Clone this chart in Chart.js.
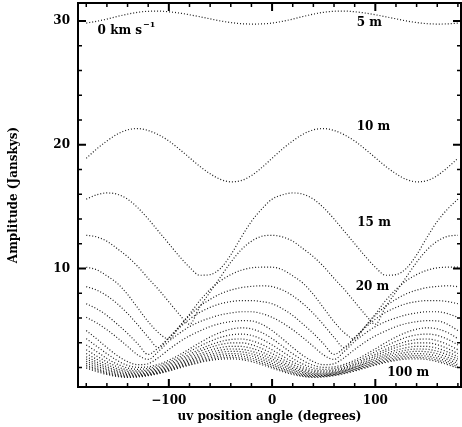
<!DOCTYPE html>
<html lang="en">
<head>
<meta charset="UTF-8">
<title>Amplitude vs uv position angle</title>
<script src="https://cdn.jsdelivr.net/npm/chart.js"></script>
<style>
    html, body { margin: 0; padding: 0; background: #fff; }
    #wrap { width: 462px; height: 427px; }
</style>
</head>
<body>
<div id="wrap"><canvas id="ampChart" width="462" height="427"></canvas></div>
<script>
// uv position angle (degrees), one sample every 10 degrees
const angles = [-180, -170, -160, -150, -140, -130, -120, -110, -100, -90, -80, -70, -60, -50, -40, -30, -20, -10, 0,
                10, 20, 30, 40, 50, 60, 70, 80, 90, 100, 110, 120, 130, 140, 150, 160, 170, 180];

const baselines = ['5 m', '10 m', '15 m', '20 m', '25 m', '30 m', '35 m', '40 m', '45 m', '50 m',
                   '55 m', '60 m', '65 m', '70 m', '75 m', '80 m', '85 m', '90 m', '95 m', '100 m'];

// amplitude (Jy) per baseline
const amp5 = [29.83, 29.97, 30.15, 30.36, 30.55, 30.7, 30.78, 30.8, 30.74, 30.64, 30.5, 30.34, 30.17, 30.0, 29.87, 29.78, 29.75, 29.76, 29.83,
              29.97, 30.15, 30.36, 30.55, 30.7, 30.78, 30.8, 30.74, 30.64, 30.5, 30.34, 30.17, 30.0, 29.87, 29.78, 29.75, 29.76, 29.83];
const amp10 = [18.9, 19.65, 20.3, 20.85, 21.2, 21.3, 21.15, 20.8, 20.3, 19.65, 18.95, 18.25, 17.65, 17.2, 17.0, 17.1, 17.5, 18.15, 18.9,
               19.65, 20.3, 20.85, 21.2, 21.3, 21.15, 20.8, 20.3, 19.65, 18.95, 18.25, 17.65, 17.2, 17.0, 17.1, 17.5, 18.15, 18.9];
const amp15 = [15.6, 15.95, 16.1, 16.0, 15.6, 14.9, 14.0, 13.0, 12.0, 11.0, 10.1, 9.45, 9.5, 10.0, 11.1, 12.5, 13.8, 14.8, 15.6,
               15.95, 16.1, 16.0, 15.6, 14.9, 14.0, 13.0, 12.0, 11.0, 10.1, 9.45, 9.5, 10.0, 11.1, 12.5, 13.8, 14.8, 15.6];
const amp20 = [12.68, 12.55, 12.2, 11.6, 10.95, 10.15, 9.2, 8.3, 7.3, 6.3, 5.5, 6.9, 8.1, 9.3, 10.5, 11.5, 12.2, 12.6, 12.68,
               12.55, 12.2, 11.6, 10.95, 10.15, 9.2, 8.3, 7.3, 6.3, 5.5, 6.9, 8.1, 9.3, 10.5, 11.5, 12.2, 12.6, 12.68];
const amp25 = [10.1, 9.9, 9.4, 8.8, 7.9, 6.8, 5.7, 4.8, 4.3, 5.3, 6.3, 7.4, 8.3, 9.0, 9.5, 9.85, 10.05, 10.1, 10.1,
               9.9, 9.4, 8.8, 7.9, 6.8, 5.7, 4.8, 4.3, 5.3, 6.3, 7.4, 8.3, 9.0, 9.5, 9.85, 10.05, 10.1, 10.1];
const amp30 = [8.53, 8.26, 7.79, 7.15, 6.36, 5.43, 4.44, 3.6, 4.4, 5.3, 6.2, 6.95, 7.5, 7.95, 8.25, 8.45, 8.55, 8.6, 8.53,
               8.26, 7.79, 7.15, 6.36, 5.43, 4.44, 3.6, 4.4, 5.3, 6.2, 6.95, 7.5, 7.95, 8.25, 8.45, 8.55, 8.6, 8.53];
const amp35 = [7.15, 6.75, 6.2, 5.5, 4.75, 3.9, 3.05, 3.6, 4.4, 5.2, 5.9, 6.45, 6.85, 7.15, 7.32, 7.4, 7.4, 7.32, 7.15,
               6.75, 6.2, 5.5, 4.75, 3.9, 3.05, 3.6, 4.4, 5.2, 5.9, 6.45, 6.85, 7.15, 7.32, 7.4, 7.4, 7.32, 7.15];
const amp40 = [6.05, 5.6, 5.05, 4.4, 3.7, 3.0, 2.65, 3.3, 4.1, 4.75, 5.3, 5.7, 6.0, 6.25, 6.4, 6.5, 6.5, 6.35, 6.05,
               5.6, 5.05, 4.4, 3.7, 3.0, 2.65, 3.3, 4.1, 4.75, 5.3, 5.7, 6.0, 6.25, 6.4, 6.5, 6.5, 6.35, 6.05];
const amp45 = [4.98, 4.32, 3.61, 2.96, 2.47, 2.22, 2.3, 2.8, 3.45, 4.05, 4.55, 4.95, 5.3, 5.55, 5.7, 5.78, 5.76, 5.49, 4.98,
               4.32, 3.61, 2.96, 2.47, 2.22, 2.3, 2.8, 3.45, 4.05, 4.55, 4.95, 5.3, 5.55, 5.7, 5.78, 5.76, 5.49, 4.98];
const amp50 = [4.33, 3.72, 3.11, 2.56, 2.17, 2.01, 2.05, 2.25, 2.58, 3.01, 3.5, 4.0, 4.46, 4.83, 5.09, 5.2, 5.12, 4.82, 4.33,
               3.72, 3.11, 2.56, 2.17, 2.01, 2.05, 2.25, 2.58, 3.01, 3.5, 4.0, 4.46, 4.83, 5.09, 5.2, 5.12, 4.82, 4.33];
const amp55 = [3.82, 3.28, 2.73, 2.27, 1.96, 1.85, 1.92, 2.12, 2.44, 2.83, 3.28, 3.72, 4.11, 4.43, 4.63, 4.7, 4.59, 4.28, 3.82,
               3.28, 2.73, 2.27, 1.96, 1.85, 1.92, 2.12, 2.44, 2.83, 3.28, 3.72, 4.11, 4.43, 4.63, 4.7, 4.59, 4.28, 3.82];
const amp60 = [3.43, 2.93, 2.45, 2.06, 1.8, 1.72, 1.8, 2.0, 2.3, 2.67, 3.07, 3.47, 3.82, 4.09, 4.26, 4.3, 4.16, 3.86, 3.43,
               2.93, 2.45, 2.06, 1.8, 1.72, 1.8, 2.0, 2.3, 2.67, 3.07, 3.47, 3.82, 4.09, 4.26, 4.3, 4.16, 3.86, 3.43];
const amp65 = [3.12, 2.67, 2.24, 1.89, 1.68, 1.62, 1.71, 1.9, 2.19, 2.55, 2.92, 3.3, 3.61, 3.85, 3.98, 3.99, 3.84, 3.53, 3.12,
               2.67, 2.24, 1.89, 1.68, 1.62, 1.71, 1.9, 2.19, 2.55, 2.92, 3.3, 3.61, 3.85, 3.98, 3.99, 3.84, 3.53, 3.12];
const amp70 = [2.87, 2.46, 2.06, 1.76, 1.57, 1.53, 1.62, 1.81, 2.09, 2.41, 2.77, 3.1, 3.39, 3.6, 3.71, 3.7, 3.55, 3.26, 2.87,
               2.46, 2.06, 1.76, 1.57, 1.53, 1.62, 1.81, 2.09, 2.41, 2.77, 3.1, 3.39, 3.6, 3.71, 3.7, 3.55, 3.26, 2.87];
const amp75 = [2.68, 2.29, 1.92, 1.65, 1.49, 1.47, 1.56, 1.75, 2.01, 2.32, 2.64, 2.95, 3.21, 3.4, 3.49, 3.47, 3.31, 3.03, 2.68,
               2.29, 1.92, 1.65, 1.49, 1.47, 1.56, 1.75, 2.01, 2.32, 2.64, 2.95, 3.21, 3.4, 3.49, 3.47, 3.31, 3.03, 2.68];
const amp80 = [2.5, 2.14, 1.8, 1.56, 1.42, 1.41, 1.51, 1.69, 1.94, 2.23, 2.53, 2.82, 3.05, 3.22, 3.3, 3.27, 3.11, 2.83, 2.5,
               2.14, 1.8, 1.56, 1.42, 1.41, 1.51, 1.69, 1.94, 2.23, 2.53, 2.82, 3.05, 3.22, 3.3, 3.27, 3.11, 2.83, 2.5];
const amp85 = [2.33, 1.99, 1.69, 1.46, 1.35, 1.36, 1.45, 1.63, 1.87, 2.14, 2.43, 2.69, 2.91, 3.05, 3.12, 3.08, 2.92, 2.65, 2.33,
               1.99, 1.69, 1.46, 1.35, 1.36, 1.45, 1.63, 1.87, 2.14, 2.43, 2.69, 2.91, 3.05, 3.12, 3.08, 2.92, 2.65, 2.33];
const amp90 = [2.19, 1.87, 1.59, 1.39, 1.29, 1.31, 1.41, 1.58, 1.81, 2.07, 2.34, 2.58, 2.78, 2.91, 2.96, 2.91, 2.75, 2.49, 2.19,
               1.87, 1.59, 1.39, 1.29, 1.31, 1.41, 1.58, 1.81, 2.07, 2.34, 2.58, 2.78, 2.91, 2.96, 2.91, 2.75, 2.49, 2.19];
const amp95 = [2.06, 1.76, 1.51, 1.32, 1.24, 1.27, 1.37, 1.54, 1.76, 2.0, 2.25, 2.48, 2.66, 2.78, 2.82, 2.76, 2.6, 2.35, 2.06,
               1.76, 1.51, 1.32, 1.24, 1.27, 1.37, 1.54, 1.76, 2.0, 2.25, 2.48, 2.66, 2.78, 2.82, 2.76, 2.6, 2.35, 2.06];
const amp100 = [1.95, 1.67, 1.43, 1.27, 1.2, 1.23, 1.34, 1.5, 1.71, 1.95, 2.19, 2.4, 2.57, 2.67, 2.7, 2.64, 2.47, 2.23, 1.95,
                1.67, 1.43, 1.27, 1.2, 1.23, 1.34, 1.5, 1.71, 1.95, 2.19, 2.4, 2.57, 2.67, 2.7, 2.64, 2.47, 2.23, 1.95];

const curves = [amp5, amp10, amp15, amp20, amp25, amp30, amp35, amp40, amp45, amp50,
                amp55, amp60, amp65, amp70, amp75, amp80, amp85, amp90, amp95, amp100];

// text written inside the plot, placed in data units
const notes = [
    { text: '5 m', x: 82, y: 29.85 },
    { text: '10 m', x: 82, y: 21.4 },
    { text: '15 m', x: 82.5, y: 13.7 },
    { text: '20 m', x: 81, y: 8.5 },
    { text: '100 m', x: 111.5, y: 1.6 }
];

const FONT = "bold 12px 'DejaVu Serif'";

const framePlugin = {
    id: 'frame',
    afterDatasetsDraw(chart) {
        const { ctx, chartArea: { left, right, top, bottom }, scales: { x, y } } = chart;
        ctx.save();
        ctx.strokeStyle = '#000';

        // inward ticks on all four sides
        x.ticks.forEach(t => {
            const major = t.value % 100 === 0;
            const px = x.getPixelForValue(t.value);
            const len = major ? 8 : 4;
            ctx.lineWidth = major ? 2 : 1.5;
            ctx.beginPath();
            ctx.moveTo(px, bottom); ctx.lineTo(px, bottom - len);
            ctx.moveTo(px, top); ctx.lineTo(px, top + len);
            ctx.stroke();
        });
        y.ticks.forEach(t => {
            const major = t.value % 10 === 0;
            const py = y.getPixelForValue(t.value);
            const len = major ? 8 : 4;
            ctx.lineWidth = major ? 2 : 1.5;
            ctx.beginPath();
            ctx.moveTo(left, py); ctx.lineTo(left + len, py);
            ctx.moveTo(right, py); ctx.lineTo(right - len, py);
            ctx.stroke();
        });

        ctx.lineWidth = 2;
        ctx.strokeRect(left, top, right - left, bottom - top);

        // labels
        ctx.fillStyle = '#000';
        ctx.font = FONT;
        ctx.textAlign = 'left';
        ctx.textBaseline = 'middle';
        notes.forEach(n => {
            ctx.fillText(n.text, x.getPixelForValue(n.x), y.getPixelForValue(n.y));
        });

        // velocity label with superscript
        const vx = x.getPixelForValue(-169);
        const vy = y.getPixelForValue(29.2);
        ctx.fillText('0 km s', vx, vy);
        const w = ctx.measureText('0 km s').width;
        ctx.font = "bold 8px 'DejaVu Serif'";
        ctx.fillText('\u22121', vx + w + 1, vy - 6);
        ctx.restore();
    }
};

const ctx = document.getElementById('ampChart').getContext('2d');
new Chart(ctx, {
    type: 'line',
    data: {
        datasets: curves.map((vals, i) => ({
            label: baselines[i],
            data: angles.map((a, j) => ({ x: a, y: vals[j] })),
            borderColor: '#1a1a1a',
            borderWidth: 1.2,
            borderDash: [1, 2],
            pointRadius: 0,
            fill: false,
            cubicInterpolationMode: 'monotone'
        }))
    },
    options: {
        responsive: false,
        animation: false,
        devicePixelRatio: 1,
        layout: { padding: { top: 3, right: 1, left: 0, bottom: 0 } },
        plugins: { legend: { display: false }, tooltip: { enabled: false } },
        scales: {
            x: {
                type: 'linear',
                min: -188,
                max: 183,
                grid: { display: false, drawTicks: false },
                border: { display: false },
                ticks: {
                    stepSize: 20,
                    includeBounds: false,
                    autoSkip: false,
                    maxRotation: 0,
                    padding: 7,
                    color: '#000',
                    font: { family: 'DejaVu Serif', weight: 'bold', size: 12 },
                    callback: v => v % 100 === 0 ? (v < 0 ? '\u2212' + Math.abs(v) : String(v)) : ''
                },
                title: {
                    display: true,
                    text: 'uv position angle (degrees)',
                    color: '#000',
                    font: { family: 'DejaVu Serif', weight: 'bold', size: 12 },
                    padding: { top: 0, bottom: 3 }
                },
                afterFit(scale) {
                    scale.height = 40;
                    scale.paddingLeft = 0;
                    scale.paddingRight = 0;
                }
            },
            y: {
                min: 0.42,
                max: 31.45,
                grid: { display: false, drawTicks: false },
                border: { display: false },
                ticks: {
                    stepSize: 2,
                    includeBounds: false,
                    padding: 8,
                    color: '#000',
                    font: { family: 'DejaVu Serif', weight: 'bold', size: 12 },
                    callback: v => v % 10 === 0 ? String(v) : ''
                },
                title: {
                    display: true,
                    text: 'Amplitude (Janskys)',
                    color: '#000',
                    font: { family: 'DejaVu Serif', weight: 'bold', size: 12 },
                    padding: { top: 7, bottom: 0 }
                },
                afterFit(scale) {
                    scale.width = 78;
                    scale.paddingTop = 0;
                    scale.paddingBottom = 0;
                }
            }
        }
    },
    plugins: [framePlugin]
});
</script>
</body>
</html>
